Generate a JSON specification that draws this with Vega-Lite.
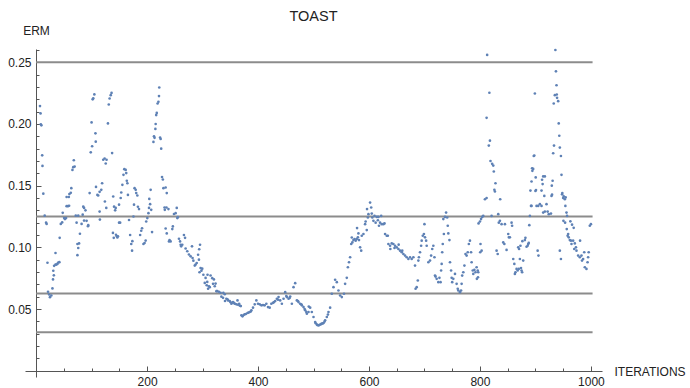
{
  "$schema": "https://vega.github.io/schema/vega-lite/v6.json",
  "width": 577,
  "height": 328,
  "autosize": {"type": "none"},
  "padding": {"left": 25, "top": 49, "right": 88, "bottom": 11},
  "background": "white",
  "config": {"view": {"stroke": null}},
  "title": {"text": "TOAST", "font": "Liberation Sans", "fontSize": 14.5, "fontWeight": "normal", "color": "#222222", "anchor": "middle", "frame": "group", "baseline": "alphabetic", "offset": -11},
  "datasets": {
    "levels": [{"level": 0.25}, {"level": 0.125}, {"level": 0.0625}, {"level": 0.03125}],
    "points": [
      {"iter":7,"erm":0.2145},{"iter":8,"erm":0.2086},{"iter":8.5,"erm":0.1997},{"iter":9.5,"erm":0.1989},{"iter":11,"erm":0.1746},{"iter":11.5,"erm":0.166},{"iter":13,"erm":0.1435},{"iter":15.5,"erm":0.1257},{"iter":18,"erm":0.12},{"iter":19,"erm":0.119},{"iter":20.5,"erm":0.0875},{"iter":21.5,"erm":0.064},{"iter":23.5,"erm":0.0618},{"iter":25,"erm":0.0596},{"iter":27.5,"erm":0.061},{"iter":29.5,"erm":0.0667},{"iter":30.5,"erm":0.074},{"iter":32,"erm":0.0773},{"iter":31,"erm":0.081},{"iter":32.5,"erm":0.085},{"iter":35,"erm":0.086},{"iter":36.5,"erm":0.086},{"iter":38.5,"erm":0.0866},{"iter":40,"erm":0.0877},{"iter":42,"erm":0.088},{"iter":35,"erm":0.0954},{"iter":42.5,"erm":0.1077},{"iter":44.5,"erm":0.119},{"iter":47,"erm":0.1202},{"iter":50.5,"erm":0.1237},{"iter":52,"erm":0.1229},{"iter":54,"erm":0.1237},{"iter":48,"erm":0.128},{"iter":55,"erm":0.1334},{"iter":57.5,"erm":0.1334},{"iter":59.5,"erm":0.1337},{"iter":55,"erm":0.1408},{"iter":59,"erm":0.1408},{"iter":60,"erm":0.1432},{"iter":62.5,"erm":0.1442},{"iter":63.5,"erm":0.148},{"iter":65.5,"erm":0.1628},{"iter":67,"erm":0.165},{"iter":69.5,"erm":0.1655},{"iter":68,"erm":0.1706},{"iter":71.5,"erm":0.1257},{"iter":73,"erm":0.12},{"iter":76,"erm":0.1257},{"iter":74.5,"erm":0.1027},{"iter":76,"erm":0.0995},{"iter":77.5,"erm":0.1032},{"iter":74.5,"erm":0.0937},{"iter":79,"erm":0.111},{"iter":82,"erm":0.119},{"iter":84,"erm":0.1265},{"iter":85,"erm":0.133},{"iter":86.5,"erm":0.132},{"iter":89,"erm":0.13},{"iter":86.5,"erm":0.1217},{"iter":91,"erm":0.1215},{"iter":93.5,"erm":0.1172},{"iter":94,"erm":0.118},{"iter":96.5,"erm":0.144},{"iter":98.5,"erm":0.177},{"iter":101,"erm":0.182},{"iter":100,"erm":0.2013},{"iter":102,"erm":0.22},{"iter":105,"erm":0.224},{"iter":103,"erm":0.2209},{"iter":107,"erm":0.1924},{"iter":107.5,"erm":0.1857},{"iter":108,"erm":0.149},{"iter":110.5,"erm":0.1425},{"iter":112,"erm":0.142},{"iter":114.5,"erm":0.145},{"iter":117.5,"erm":0.1466},{"iter":119,"erm":0.152},{"iter":114.5,"erm":0.129},{"iter":115,"erm":0.1225},{"iter":124,"erm":0.1372},{"iter":126.5,"erm":0.132},{"iter":121,"erm":0.171},{"iter":123.5,"erm":0.172},{"iter":125.5,"erm":0.168},{"iter":127,"erm":0.171},{"iter":129.5,"erm":0.2005},{"iter":131,"erm":0.2158},{"iter":132.5,"erm":0.2207},{"iter":134.5,"erm":0.2234},{"iter":136,"erm":0.2252},{"iter":137,"erm":0.1764},{"iter":138.5,"erm":0.1117},{"iter":140,"erm":0.1077},{"iter":139,"erm":0.1412},{"iter":140.5,"erm":0.133},
      {"iter":142.5,"erm":0.13},{"iter":143.5,"erm":0.132},{"iter":144,"erm":0.1102},{"iter":145.5,"erm":0.109},{"iter":146.5,"erm":0.108},{"iter":147.5,"erm":0.109},{"iter":149.5,"erm":0.12},{"iter":151.5,"erm":0.12},{"iter":149.5,"erm":0.1346},{"iter":152.5,"erm":0.14},{"iter":153.5,"erm":0.1445},{"iter":155.5,"erm":0.1507},{"iter":157.5,"erm":0.1588},{"iter":159,"erm":0.1634},{"iter":161.5,"erm":0.1628},{"iter":162.5,"erm":0.1602},{"iter":163.5,"erm":0.154},{"iter":164.5,"erm":0.152},{"iter":165.5,"erm":0.1425},{"iter":167.5,"erm":0.1222},{"iter":169.5,"erm":0.11},{"iter":171.5,"erm":0.1027},{"iter":173,"erm":0.0973},{"iter":173.5,"erm":0.105},{"iter":175.5,"erm":0.125},{"iter":176.5,"erm":0.1346},{"iter":177.5,"erm":0.148},{"iter":179.5,"erm":0.1466},{"iter":180.5,"erm":0.144},{"iter":182.5,"erm":0.142},{"iter":183.5,"erm":0.1329},{"iter":185.5,"erm":0.131},{"iter":187.5,"erm":0.11},{"iter":189.5,"erm":0.1135},{"iter":191,"erm":0.1155},{"iter":193.5,"erm":0.1027},{"iter":195.5,"erm":0.1035},{"iter":197.5,"erm":0.1055},{"iter":198.5,"erm":0.121},{"iter":200.5,"erm":0.1237},{"iter":202.5,"erm":0.1277},{"iter":203.5,"erm":0.132},{"iter":205.5,"erm":0.135},{"iter":204,"erm":0.1393},{"iter":206.5,"erm":0.1466},{"iter":207.5,"erm":0.1304},{"iter":209,"erm":0.1124},{"iter":211.5,"erm":0.1855},{"iter":212.5,"erm":0.19},{"iter":213.5,"erm":0.1888},{"iter":215,"erm":0.196},{"iter":215.5,"erm":0.2},{"iter":216.5,"erm":0.2072},{"iter":217.5,"erm":0.209},{"iter":219,"erm":0.2166},{"iter":220.5,"erm":0.218},{"iter":221.5,"erm":0.2226},{"iter":222,"erm":0.2296},{"iter":223.5,"erm":0.189},{"iter":224.5,"erm":0.1878},{"iter":225.5,"erm":0.18},{"iter":227,"erm":0.157},{"iter":228.5,"erm":0.155},{"iter":229.5,"erm":0.148},{"iter":233.5,"erm":0.1485},{"iter":235.5,"erm":0.144},{"iter":231.5,"erm":0.1323},{"iter":235,"erm":0.1323},{"iter":238.5,"erm":0.131},{"iter":232,"erm":0.1304},{"iter":233.5,"erm":0.1153},{"iter":235.5,"erm":0.1113},{"iter":239.5,"erm":0.1048},{"iter":240.5,"erm":0.106},{"iter":242.5,"erm":0.1048},{"iter":246.5,"erm":0.117},{"iter":245.5,"erm":0.1148},{"iter":248.5,"erm":0.127},{"iter":251.5,"erm":0.1277},{"iter":253.5,"erm":0.132},{"iter":254.5,"erm":0.1237},{"iter":255.5,"erm":0.1245},{"iter":257.5,"erm":0.107},{"iter":259.5,"erm":0.1048},{"iter":260.5,"erm":0.1021},{"iter":261.5,"erm":0.1008},{"iter":263.5,"erm":0.1021},{"iter":266.5,"erm":0.11},{"iter":268.5,"erm":0.1077},{"iter":269.5,"erm":0.0991},{"iter":272.5,"erm":0.0968},{"iter":275.5,"erm":0.0942},{"iter":278.5,"erm":0.0927},{"iter":281,"erm":0.1008},{"iter":282,"erm":0.0914},{"iter":283.5,"erm":0.0892},
      {"iter":286,"erm":0.0852},{"iter":287.5,"erm":0.086},{"iter":289.5,"erm":0.0873},{"iter":292,"erm":0.094},{"iter":293.5,"erm":0.09},{"iter":295.5,"erm":0.1021},{"iter":294,"erm":0.0985},{"iter":296.5,"erm":0.0833},{"iter":299.5,"erm":0.0827},{"iter":298,"erm":0.0811},{"iter":294.5,"erm":0.0798},{"iter":301.5,"erm":0.0778},{"iter":305.5,"erm":0.0752},{"iter":308.5,"erm":0.072},{"iter":304,"erm":0.0712},{"iter":307.5,"erm":0.0693},{"iter":311.5,"erm":0.0685},{"iter":309,"erm":0.0778},{"iter":314.5,"erm":0.0772},{"iter":317.5,"erm":0.075},{"iter":320.5,"erm":0.074},{"iter":323.5,"erm":0.0706},{"iter":322,"erm":0.0685},{"iter":310,"erm":0.0664},{"iter":313,"erm":0.0677},{"iter":319,"erm":0.0704},{"iter":325,"erm":0.0645},{"iter":326.5,"erm":0.0645},{"iter":329.5,"erm":0.064},{"iter":332.5,"erm":0.0632},{"iter":337.5,"erm":0.0632},{"iter":340,"erm":0.062},
      {"iter":334,"erm":0.06},{"iter":337,"erm":0.0591},{"iter":343,"erm":0.0583},{"iter":346,"erm":0.057},{"iter":349,"erm":0.0565},{"iter":355,"erm":0.0556},{"iter":358,"erm":0.0543},{"iter":361,"erm":0.0538},{"iter":366,"erm":0.0543},{"iter":369,"erm":0.0524},{"iter":340.5,"erm":0.0565},{"iter":352,"erm":0.0543},{"iter":363,"erm":0.057},{"iter":345,"erm":0.0578},{"iter":350,"erm":0.0556},{"iter":353,"erm":0.055},{"iter":357,"erm":0.0548},{"iter":364,"erm":0.0535},{"iter":367,"erm":0.0528},
      {"iter":370,"erm":0.0449},{"iter":372,"erm":0.0441},{"iter":374,"erm":0.0452},{"iter":376,"erm":0.0457},{"iter":378,"erm":0.046},{"iter":381,"erm":0.0468},{"iter":383,"erm":0.0471},{"iter":385,"erm":0.0476},{"iter":387,"erm":0.048},{"iter":388,"erm":0.049},{"iter":391,"erm":0.0511},{"iter":394,"erm":0.0538},{"iter":397,"erm":0.057},{"iter":400,"erm":0.0543},{"iter":403,"erm":0.0538},{"iter":406,"erm":0.053},{"iter":409,"erm":0.0532},{"iter":412,"erm":0.053},{"iter":415,"erm":0.0543},{"iter":418,"erm":0.0516},{"iter":421,"erm":0.0511},{"iter":424,"erm":0.0543},{"iter":427,"erm":0.055},{"iter":429,"erm":0.0556},{"iter":431,"erm":0.0565},{"iter":434,"erm":0.0583},{"iter":436,"erm":0.0575},{"iter":437,"erm":0.0597},{"iter":440,"erm":0.057},{"iter":443,"erm":0.0543},{"iter":446,"erm":0.0583},{"iter":449,"erm":0.0637},{"iter":451,"erm":0.0605},{"iter":452,"erm":0.0597},{"iter":455,"erm":0.0583},{"iter":457,"erm":0.059},{"iter":458,"erm":0.0602},{"iter":461,"erm":0.0543},{"iter":464,"erm":0.0677},{"iter":467,"erm":0.071},{"iter":470,"erm":0.057},{"iter":472,"erm":0.0565},{"iter":473,"erm":0.0556},{"iter":476,"erm":0.0543},{"iter":478,"erm":0.0538},{"iter":479,"erm":0.053},{"iter":482,"erm":0.0516},{"iter":484,"erm":0.05},{"iter":485,"erm":0.049},{"iter":487,"erm":0.0475},{"iter":488,"erm":0.0462},{"iter":491,"erm":0.0476},{"iter":491.5,"erm":0.052},{"iter":494,"erm":0.0511},{"iter":497,"erm":0.0476},{"iter":500,"erm":0.0435},{"iter":503,"erm":0.0395},{"iter":504,"erm":0.0385},{"iter":506,"erm":0.0374},{"iter":507,"erm":0.037},{"iter":509,"erm":0.0368},{"iter":510,"erm":0.037},{"iter":512,"erm":0.0374},{"iter":514,"erm":0.0378},{"iter":515,"erm":0.0382},{"iter":517,"erm":0.0384},{"iter":518,"erm":0.0387},{"iter":520,"erm":0.0398},{"iter":521,"erm":0.0409},{"iter":524,"erm":0.0435},{"iter":526,"erm":0.0455},{"iter":527,"erm":0.0476},{"iter":530,"erm":0.0511},{"iter":533,"erm":0.0624},{"iter":536,"erm":0.0677},{"iter":539,"erm":0.0737},{"iter":542,"erm":0.0718},{"iter":545,"erm":0.065},{"iter":548,"erm":0.061},{"iter":551,"erm":0.0597},{"iter":555,"erm":0.0624},
      {"iter":557,"erm":0.0704},{"iter":560,"erm":0.0753},{"iter":562,"erm":0.0839},{"iter":564,"erm":0.0879},{"iter":566,"erm":0.092},{"iter":568,"erm":0.1027},{"iter":570,"erm":0.104},{"iter":572,"erm":0.1059},{"iter":574,"erm":0.1067},{"iter":576,"erm":0.1054},{"iter":578,"erm":0.1067},{"iter":580,"erm":0.1081},{"iter":582,"erm":0.1059},{"iter":569,"erm":0.108},{"iter":584,"erm":0.1},{"iter":586,"erm":0.0973},{"iter":578.5,"erm":0.1156},{"iter":581,"erm":0.1113},{"iter":587,"erm":0.1094},{"iter":590,"erm":0.1108},{"iter":593,"erm":0.1188},{"iter":594,"erm":0.121},{"iter":596,"erm":0.114},{"iter":598,"erm":0.1242},{"iter":596.5,"erm":0.131},{"iter":599,"erm":0.1269},{"iter":602,"erm":0.1363},{"iter":604,"erm":0.1323},{"iter":605,"erm":0.1274},{"iter":606,"erm":0.1242},{"iter":608,"erm":0.1215},{"iter":610,"erm":0.1255},{"iter":612,"erm":0.12},{"iter":614,"erm":0.1247},{"iter":616,"erm":0.122},{"iter":617,"erm":0.1247},{"iter":618,"erm":0.1175},{"iter":620,"erm":0.12},{"iter":622,"erm":0.1255},{"iter":623,"erm":0.1188},{"iter":626,"erm":0.1188},{"iter":628,"erm":0.1194},{"iter":629,"erm":0.1108},{"iter":632,"erm":0.1094},{"iter":634,"erm":0.1094},{"iter":635,"erm":0.1027},{"iter":638,"erm":0.1013},{"iter":641,"erm":0.1032},{"iter":644,"erm":0.1027},{"iter":647,"erm":0.1013},{"iter":650,"erm":0.1},{"iter":653,"erm":0.0987},{"iter":656,"erm":0.0973},{"iter":659,"erm":0.096},{"iter":662,"erm":0.0946},{"iter":665,"erm":0.0933},{"iter":668,"erm":0.092},{"iter":671,"erm":0.0906},{"iter":674,"erm":0.092},{"iter":677,"erm":0.0906},{"iter":680,"erm":0.092},{"iter":638.5,"erm":0.0987},{"iter":646,"erm":0.0995},{"iter":653.5,"erm":0.1022},{"iter":660,"erm":0.0973},{"iter":683,"erm":0.0852},{"iter":684,"erm":0.0664},{"iter":686,"erm":0.0677},{"iter":688,"erm":0.0731},{"iter":689,"erm":0.0893},{"iter":690,"erm":0.092},{"iter":692,"erm":0.096},{"iter":694,"erm":0.1013},{"iter":695,"erm":0.1054},{"iter":697,"erm":0.1094},{"iter":699,"erm":0.1108},{"iter":700,"erm":0.1188},{"iter":701,"erm":0.1081},{"iter":703,"erm":0.1054},{"iter":704,"erm":0.1013},{"iter":707,"erm":0.0879},{"iter":710,"erm":0.0893},{"iter":712,"erm":0.0933},{"iter":714,"erm":0.0987},{"iter":716,"erm":0.1013},{"iter":718,"erm":0.092},{"iter":719,"erm":0.0771},{"iter":720,"erm":0.0763},{"iter":722,"erm":0.0745},{"iter":725,"erm":0.0718},{"iter":727,"erm":0.0753},{"iter":729,"erm":0.0718},{"iter":730,"erm":0.0812},{"iter":731,"erm":0.0866},{"iter":732,"erm":0.096},{"iter":733,"erm":0.1027},{"iter":735,"erm":0.1108},{"iter":734,"erm":0.1229},{"iter":737,"erm":0.1247},{"iter":739,"erm":0.1282},{"iter":741,"erm":0.1242},{"iter":742,"erm":0.1175},{"iter":743,"erm":0.1113},{"iter":745,"erm":0.1059},{"iter":746,"erm":0.0879},{"iter":748,"erm":0.0812},{"iter":749,"erm":0.0753},{"iter":750,"erm":0.0718},{"iter":752,"erm":0.0745},{"iter":755,"erm":0.0785},{"iter":758,"erm":0.0704},{"iter":760,"erm":0.0664},{"iter":761,"erm":0.065},{"iter":764,"erm":0.0637},{"iter":766,"erm":0.065},{"iter":767,"erm":0.0704},{"iter":768,"erm":0.0771},{"iter":770,"erm":0.0798},{"iter":772,"erm":0.0852},{"iter":774,"erm":0.0946},{"iter":776,"erm":0.0933},{"iter":778,"erm":0.096},{"iter":780,"erm":0.1027},{"iter":782,"erm":0.1054},{"iter":784,"erm":0.096},{"iter":785,"erm":0.0879},{"iter":787,"erm":0.0812},{"iter":788,"erm":0.0785},{"iter":790,"erm":0.0817},{"iter":792,"erm":0.0798},{"iter":794,"erm":0.0839},{"iter":796,"erm":0.0812},{"iter":797,"erm":0.0798},{"iter":796.5,"erm":0.0758},{"iter":794.5,"erm":0.0745},{"iter":797.5,"erm":0.1194},{"iter":800,"erm":0.121},{"iter":802,"erm":0.1229},{"iter":804,"erm":0.1247},{"iter":806,"erm":0.1255},{"iter":800.5,"erm":0.096},{"iter":803,"erm":0.0973},{"iter":801,"erm":0.1027},{"iter":809,"erm":0.139},{"iter":812,"erm":0.14},{"iter":821,"erm":0.1255},{"iter":830,"erm":0.0973},{"iter":832,"erm":0.0946},{"iter":833,"erm":0.1269},{"iter":834,"erm":0.12},{"iter":836,"erm":0.1215},{"iter":836.5,"erm":0.139},{"iter":839,"erm":0.1188},{"iter":842,"erm":0.104},{"iter":844,"erm":0.1027},{"iter":845,"erm":0.1188},{"iter":848,"erm":0.0979},{"iter":851,"erm":0.1108},{"iter":852,"erm":0.1081},{"iter":854,"erm":0.1081},{"iter":857,"erm":0.12},{"iter":858,"erm":0.1175},{"iter":860,"erm":0.0906},{"iter":862,"erm":0.0866},{"iter":863,"erm":0.0785},{"iter":864,"erm":0.0798},{"iter":866,"erm":0.0825},{"iter":868,"erm":0.0812},{"iter":870,"erm":0.0825},{"iter":872,"erm":0.0906},{"iter":874,"erm":0.0833},{"iter":875,"erm":0.0812},{"iter":876,"erm":0.0798},{"iter":869,"erm":0.1},{"iter":870.5,"erm":0.0987},{"iter":873,"erm":0.1013},{"iter":876.5,"erm":0.105},{"iter":878,"erm":0.0893},{"iter":881,"erm":0.1059},{"iter":882,"erm":0.1077},{"iter":884,"erm":0.1005},{"iter":886,"erm":0.1013},{"iter":887,"erm":0.1027},{"iter":888,"erm":0.1036},{"iter":889,"erm":0.118},{"iter":890,"erm":0.1255},{"iter":892,"erm":0.1336},{"iter":893,"erm":0.1336},{"iter":900,"erm":0.1457},{"iter":902,"erm":0.1336},{"iter":905,"erm":0.1336},{"iter":908,"erm":0.135},{"iter":911,"erm":0.1336},{"iter":914,"erm":0.1282},{"iter":917,"erm":0.129},{"iter":920,"erm":0.135},{"iter":922,"erm":0.129},{"iter":924,"erm":0.1269},{"iter":928,"erm":0.1274},{"iter":904,"erm":0.0973},{"iter":905.5,"erm":0.0933},{"iter":916,"erm":0.1417},{"iter":929,"erm":0.1417},{"iter":948,"erm":0.143},{"iter":950,"erm":0.14},{"iter":953,"erm":0.139},{"iter":954,"erm":0.1336},{"iter":956,"erm":0.1282},{"iter":957,"erm":0.1255},{"iter":950.5,"erm":0.1215},{"iter":953.5,"erm":0.12},{"iter":956.5,"erm":0.1148},{"iter":959,"erm":0.1108},{"iter":958,"erm":0.1094},{"iter":960,"erm":0.1081},{"iter":962,"erm":0.1059},{"iter":964,"erm":0.1054},{"iter":965,"erm":0.1027},{"iter":968,"erm":0.1054},{"iter":970,"erm":0.0987},{"iter":971,"erm":0.1032},{"iter":973,"erm":0.1},{"iter":974,"erm":0.0973},{"iter":977,"erm":0.0933},{"iter":980,"erm":0.092},{"iter":983,"erm":0.0933},{"iter":984,"erm":0.0893},{"iter":986,"erm":0.0906},{"iter":988,"erm":0.096},{"iter":989,"erm":0.0839},{"iter":992,"erm":0.0825},{"iter":994,"erm":0.0879},{"iter":995,"erm":0.092},{"iter":996,"erm":0.096},{"iter":998,"erm":0.1175},{"iter":1000,"erm":0.1188},{"iter":944,"erm":0.0973},{"iter":946,"erm":0.0906},{"iter":980.5,"erm":0.1054},{"iter":963,"erm":0.1211},{"iter":966,"erm":0.1184},{"iter":969,"erm":0.1158},
      {"iter":813,"erm":0.256},{"iter":817,"erm":0.2253},{"iter":812,"erm":0.205},{"iter":818,"erm":0.1865},{"iter":816,"erm":0.1825},{"iter":819,"erm":0.17},{"iter":822,"erm":0.1677},{"iter":824,"erm":0.1663},{"iter":825,"erm":0.1615},{"iter":828,"erm":0.152},{"iter":826,"erm":0.1467},{"iter":827,"erm":0.1453},{"iter":936,"erm":0.26},{"iter":937,"erm":0.2427},{"iter":938,"erm":0.2314},{"iter":935,"erm":0.2234},{"iter":938.5,"erm":0.2239},{"iter":939,"erm":0.2212},{"iter":941,"erm":0.2185},{"iter":933,"erm":0.2166},{"iter":899,"erm":0.2247},{"iter":942,"erm":0.2005},{"iter":943,"erm":0.1905},{"iter":933.5,"erm":0.1825},{"iter":932,"erm":0.1763},{"iter":944,"erm":0.1809},{"iter":946,"erm":0.1741},{"iter":897,"erm":0.1741},{"iter":898,"erm":0.1745},{"iter":894,"erm":0.1641},{"iter":896,"erm":0.1636},{"iter":894.5,"erm":0.162},{"iter":900.5,"erm":0.1567},{"iter":893,"erm":0.1534},{"iter":914,"erm":0.1575},{"iter":917,"erm":0.1575},{"iter":912,"erm":0.1548},{"iter":913,"erm":0.1513},{"iter":931,"erm":0.154},{"iter":947,"erm":0.1588},{"iter":891,"erm":0.146},{"iter":901,"erm":0.1464},{"iter":911,"erm":0.146},{"iter":948.5,"erm":0.144},{"iter":951,"erm":0.1413},{"iter":954.5,"erm":0.1405},{"iter":929.5,"erm":0.15},{"iter":930,"erm":0.1427}
    ]
  },
  "resolve": {"axis": {"x": "independent", "y": "independent"}},
  "layer": [
    {
      "data": {"name": "levels"},
      "mark": {"type": "rule", "color": "#8c8c8c", "strokeWidth": 2},
      "encoding": {
        "y": {
          "field": "level", "type": "quantitative",
          "scale": {"domain": [-0.0051, 0.2608], "nice": false, "zero": false},
          "axis": {
            "orient": "left", "offset": -11, "values": [0.05, 0.1, 0.15, 0.2, 0.25], "format": ".2f",
            "ticks": false, "grid": false, "domain": true, "domainColor": "#555555", "domainWidth": 1,
            "labelFont": "Liberation Sans", "labelFontSize": 12, "labelColor": "#222222", "labelPadding": 5,
            "title": "ERM", "titleFont": "Liberation Sans", "titleFontSize": 12, "titleFontWeight": "normal", "titleColor": "#222222",
            "titleAngle": 0, "titleX": 0, "titleY": -15, "titleAlign": "center", "titleBaseline": "alphabetic"
          }
        },
        "x": {
          "datum": 0, "type": "quantitative",
          "scale": {"domain": [-20, 1020], "nice": false, "zero": false},
          "axis": {
            "orient": "bottom", "offset": -6, "values": [200, 400, 600, 800, 1000], "format": "d",
            "ticks": false, "grid": false, "domain": true, "domainColor": "#555555", "domainWidth": 1,
            "labelFont": "Liberation Sans", "labelFontSize": 12, "labelColor": "#222222", "labelPadding": 5,
            "title": "ITERATIONS", "titleFont": "Liberation Sans", "titleFontSize": 12, "titleFontWeight": "normal", "titleColor": "#222222",
            "titleAngle": 0, "titleX": 589, "titleY": 4, "titleAlign": "left", "titleBaseline": "alphabetic"
          }
        },
        "x2": {"datum": 1003}
      }
    },
    {
      "data": {"name": "points"},
      "mark": {"type": "circle", "size": 7, "color": "#5E81B5", "opacity": 1},
      "encoding": {
        "x": {
          "field": "iter", "type": "quantitative",
          "axis": {
            "orient": "top", "offset": -322, "labels": false, "domain": false, "grid": false, "title": null,
            "values": [50,100,150,200,250,300,350,400,450,500,550,600,650,700,750,800,850,900,950,1000],
            "tickColor": "#555555", "tickWidth": 1,
            "tickSize": {"condition": {"test": "datum.value % 200 === 0", "value": 5}, "value": 3}
          }
        },
        "y": {
          "field": "erm", "type": "quantitative",
          "axis": {
            "orient": "right", "offset": -566, "labels": false, "domain": false, "grid": false, "title": null,
            "values": [0.01,0.02,0.03,0.04,0.05,0.06,0.07,0.08,0.09,0.1,0.11,0.12,0.13,0.14,0.15,0.16,0.17,0.18,0.19,0.2,0.21,0.22,0.23,0.24,0.25,0.26],
            "tickColor": "#555555", "tickWidth": 1,
            "tickSize": {"condition": {"test": "round(datum.value * 100) % 5 === 0", "value": 5}, "value": 3}
          }
        }
      }
    }
  ]
}
